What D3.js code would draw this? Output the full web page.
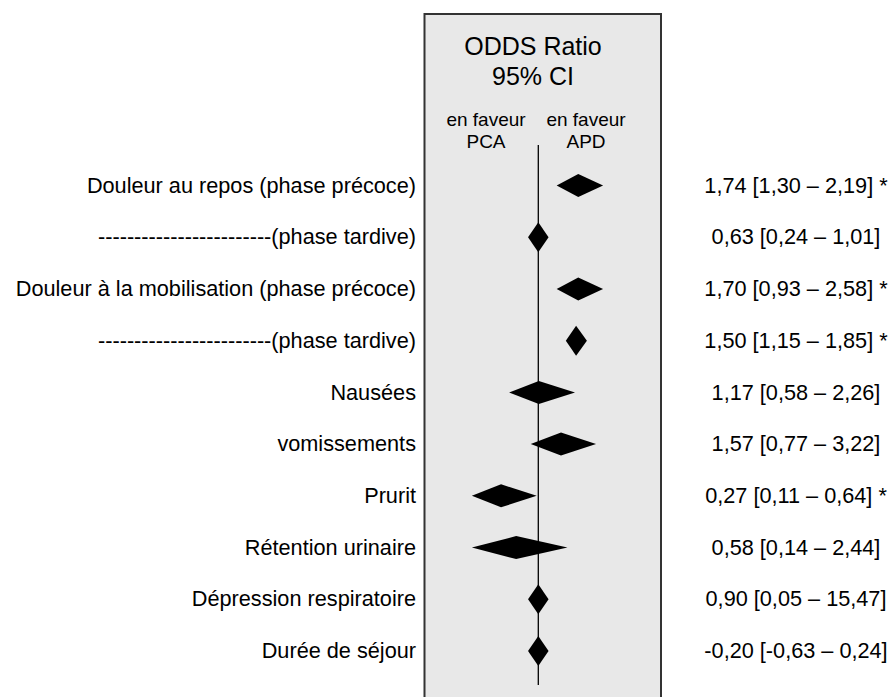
<!DOCTYPE html>
<html lang="fr">
<head>
<meta charset="UTF-8">
<title>Forest plot ODDS Ratio</title>
<script src="https://d3js.org/d3.v7.min.js"></script>
<style>
    body{
        margin:0;
        background:#fff;
    }
    .chart text{
        font-family:"Liberation Sans", Arial, sans-serif;
        fill:#000;
    }
</style>
</head>
<body>
<svg class="chart"></svg>
<script>
// rows, top to bottom
const labels = [
    'Douleur au repos (phase précoce)',
    '------------------------(phase tardive)',
    'Douleur à la mobilisation (phase précoce)',
    '------------------------(phase tardive)',
    'Nausées',
    'vomissements',
    'Prurit',
    'Rétention urinaire',
    'Dépression respiratoire',
    'Durée de séjour'
];
// printed odds ratios and 95% CI
const orValues = [1.74, 0.63, 1.70, 1.50, 1.17, 1.57, 0.27, 0.58, 0.90, -0.20];
const ciLow    = [1.30, 0.24, 0.93, 1.15, 0.58, 0.77, 0.11, 0.14, 0.05, -0.63];
const ciHigh   = [2.19, 1.01, 2.58, 1.85, 2.26, 3.22, 0.64, 2.44, 15.47, 0.24];
const signif   = [true, false, true, true, false, false, true, false, false, false];
// diamonds as they are drawn in the figure (not to scale with the printed values)
const drawnLo  = [1.34, 0.81, 1.34, 1.51, 0.46, 0.86, -0.23, -0.23, 0.81, 0.81];
const drawnMid = [1.74, 1.00, 1.74, 1.70, 1.01, 1.42, 0.31, 0.59, 1.00, 1.00];
const drawnHi  = [2.20, 1.19, 2.20, 1.90, 1.68, 2.07, 0.97, 1.54, 1.19, 1.19];
const headerLines = ['ODDS Ratio', '95% CI'];
const sideLabels = [['en faveur', 'PCA'], ['en faveur', 'APD']];

const width = 892, height = 697;
const panel = {x0:424.5, x1:661, y0:14};

const svg = d3.select('.chart')
    .attr('width', width)
    .attr('height', height);

// x: odds ratio, reference line at 1
const x = d3.scaleLinear()
    .domain([0, 1])
    .range([538.3 - 54, 538.3]);
const y = d3.scalePoint()
    .domain(d3.range(labels.length))
    .range([185.5, 651]);

const fr = d3.formatLocale({decimal:',', thousands:' ', grouping:[3], currency:['','€'], minus:'-'});
const f2 = fr.format('.2f');

// panel
svg.append('rect')
    .attr('x', panel.x0)
    .attr('y', panel.y0)
    .attr('width', panel.x1 - panel.x0)
    .attr('height', height + 10 - panel.y0)
    .attr('fill', '#e8e8e8')
    .attr('stroke', '#333')
    .attr('stroke-width', 2);

// header
svg.selectAll('.head')
    .data(headerLines).enter()
    .append('text')
    .attr('class', 'head')
    .attr('x', 533)
    .attr('y', (d, i) => 55 + i * 30)
    .attr('text-anchor', 'middle')
    .style('font-size', '25px')
    .text(d => d);

const sides = svg.selectAll('.side')
    .data(sideLabels).enter()
    .append('text')
    .attr('class', 'side')
    .attr('x', (d, i) => i === 0 ? 486 : 586)
    .attr('y', 126)
    .attr('text-anchor', 'middle')
    .style('font-size', '19px');
sides.selectAll('tspan')
    .data(d => d).enter()
    .append('tspan')
    .attr('x', function(){ return d3.select(this.parentNode).attr('x'); })
    .attr('dy', (d, i) => i === 0 ? 0 : 22.3)
    .text(d => d);

// reference line OR = 1
svg.append('line')
    .attr('x1', x(1)).attr('x2', x(1))
    .attr('y1', 145).attr('y2', 685)
    .attr('stroke', '#000')
    .attr('stroke-width', 1.3);

// diamonds
svg.selectAll('.diamond')
    .data(d3.range(labels.length)).enter()
    .append('path')
    .attr('class', 'diamond')
    .attr('fill', '#000')
    .attr('d', i => {
        const lo = x(drawnLo[i]), mid = x(drawnMid[i]), hi = x(drawnHi[i]);
        const h = (hi - lo) < 30 ? 15 : 11.5;
        const cy = y(i);
        return 'M' + lo + ',' + cy + 'L' + mid + ',' + (cy - h) +
               'L' + hi + ',' + cy + 'L' + mid + ',' + (cy + h) + 'Z';
    });

// row labels
svg.selectAll('.label')
    .data(labels).enter()
    .append('text')
    .attr('class', 'label')
    .attr('x', 416)
    .attr('y', (d, i) => y(i))
    .attr('dy', '0.33em')
    .attr('text-anchor', 'end')
    .style('font-size', '21.7px')
    .text(d => d);

// printed values
svg.selectAll('.value')
    .data(orValues).enter()
    .append('text')
    .attr('class', 'value')
    .attr('x', 796)
    .attr('y', (d, i) => y(i))
    .attr('dy', '0.33em')
    .attr('text-anchor', 'middle')
    .style('font-size', '21.7px')
    .text((d, i) => f2(d) + ' [' + f2(ciLow[i]) + ' – ' + f2(ciHigh[i]) + ']' + (signif[i] ? ' *' : ''));
</script>
</body>
</html>
